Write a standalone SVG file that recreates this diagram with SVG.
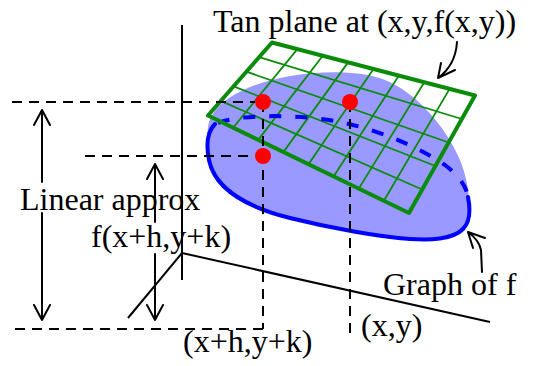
<svg xmlns="http://www.w3.org/2000/svg" width="536" height="366" viewBox="0 0 536 366">
<style>
text{font-family:"Liberation Serif","Times New Roman",serif;font-size:32px;fill:#000}
.ax{stroke:#000;stroke-width:2;fill:none}
.dsh{stroke:#000;stroke-width:2;fill:none;stroke-dasharray:10,7}
.arr{stroke:#000;stroke-width:2;fill:none;stroke-linecap:round;stroke-linejoin:round}
.grid{stroke:#0a8c0a;stroke-width:1.8;fill:none}
.border{stroke:#0a8c0a;stroke-width:4;fill:none;stroke-linejoin:round}
.dot{fill:#ff0000}
</style>
<rect width="536" height="366" fill="#fff"/>
<g id="axes">
<line class="ax" x1="182" y1="25" x2="182" y2="280"/>
<line class="ax" x1="182" y1="253" x2="490" y2="322"/>
<line class="ax" x1="182" y1="253" x2="128" y2="318"/>
</g>
<g id="graph-of-f">
<path fill="#9999ff" d="M208,128 C210,105 240,85 290,76 C320,71 360,70 385,80 C415,92 445,125 460,160 C470,185 473,215 463,229 C452,240 430,240 410,239 C380,237 330,228 290,218 C250,208 215,190 209,160 C206,148 206,138 208,128 Z"/>
<path fill="none" stroke="#0000ff" stroke-width="4" stroke-linecap="round" d="M468,197 C471,212 470,222 463,229 C452,240 430,240 410,239 C380,237 330,228 290,218 C250,208 215,190 209,160 C206,145 207,132 215,124"/>
</g>
<g id="tan-plane">
<path class="grid" d="M297.4,49.1 L233.1,127.7 M322.75,55.75 L258.25,139.9 M348.1,62.4 L283.4,152.1 M373.5,69 L308.5,164.25 M398.9,75.6 L333.6,176.4 M424.25,82.25 L358.75,188.6 M449.6,88.9 L383.9,200.8 M259.2,57.1 L461.8,119 M246.4,71.7 L448.6,142.5 M233.6,86.3 L435.4,166 M220.8,100.9 L422.2,189.5"/>
<path fill="none" stroke="#0000ff" stroke-width="4" stroke-dasharray="12,14" d="M218,123 C240,114 300,114 340,122 C380,130 420,148 445,165 C458,175 466,185 468,197"/>
<path class="border" d="M272,42.5 L475,95.5 L409,213 L208,115.5 Z"/>
</g>
<g id="guides">
<line class="dsh" x1="12" y1="102" x2="255" y2="102"/>
<line class="dsh" x1="85" y1="156" x2="255" y2="156"/>
<line class="dsh" x1="15" y1="329" x2="263" y2="329"/>
<line class="dsh" x1="263" y1="102" x2="263" y2="329"/>
<line class="dsh" x1="350" y1="102" x2="350" y2="335"/>
</g>
<g id="points">
<circle class="dot" cx="263" cy="102" r="8"/>
<circle class="dot" cx="350" cy="102" r="8"/>
<circle class="dot" cx="263" cy="156" r="8"/>
</g>
<g id="connectors">
<path class="arr" d="M42,110 L42,182 M34,125 L42,110 L50,125"/>
<path class="arr" d="M42,213 L42,320 M34,305 L42,320 L50,305"/>
<path class="arr" d="M155,164 L155,222 M147,179 L155,164 L163,179"/>
<path class="arr" d="M155,254 L155,320 M147,305 L155,320 L163,305"/>
<path class="arr" d="M457,42 C456,58 449,70 438,78 M441,63 L438,78 L455,70"/>
<path class="arr" d="M482,272 L481,250 Q479,240 468,232 M473,248 L468,232 L485,238"/>
</g>
<g id="labels">
<text x="213" y="32">Tan plane at (x,y,f(x,y))</text>
<text x="20" y="210">Linear approx</text>
<text x="91" y="247">f(x+h,y+k)</text>
<text x="183" y="352">(x+h,y+k)</text>
<text x="361" y="336">(x,y)</text>
<text x="383" y="295">Graph of f</text>
</g>
</svg>
